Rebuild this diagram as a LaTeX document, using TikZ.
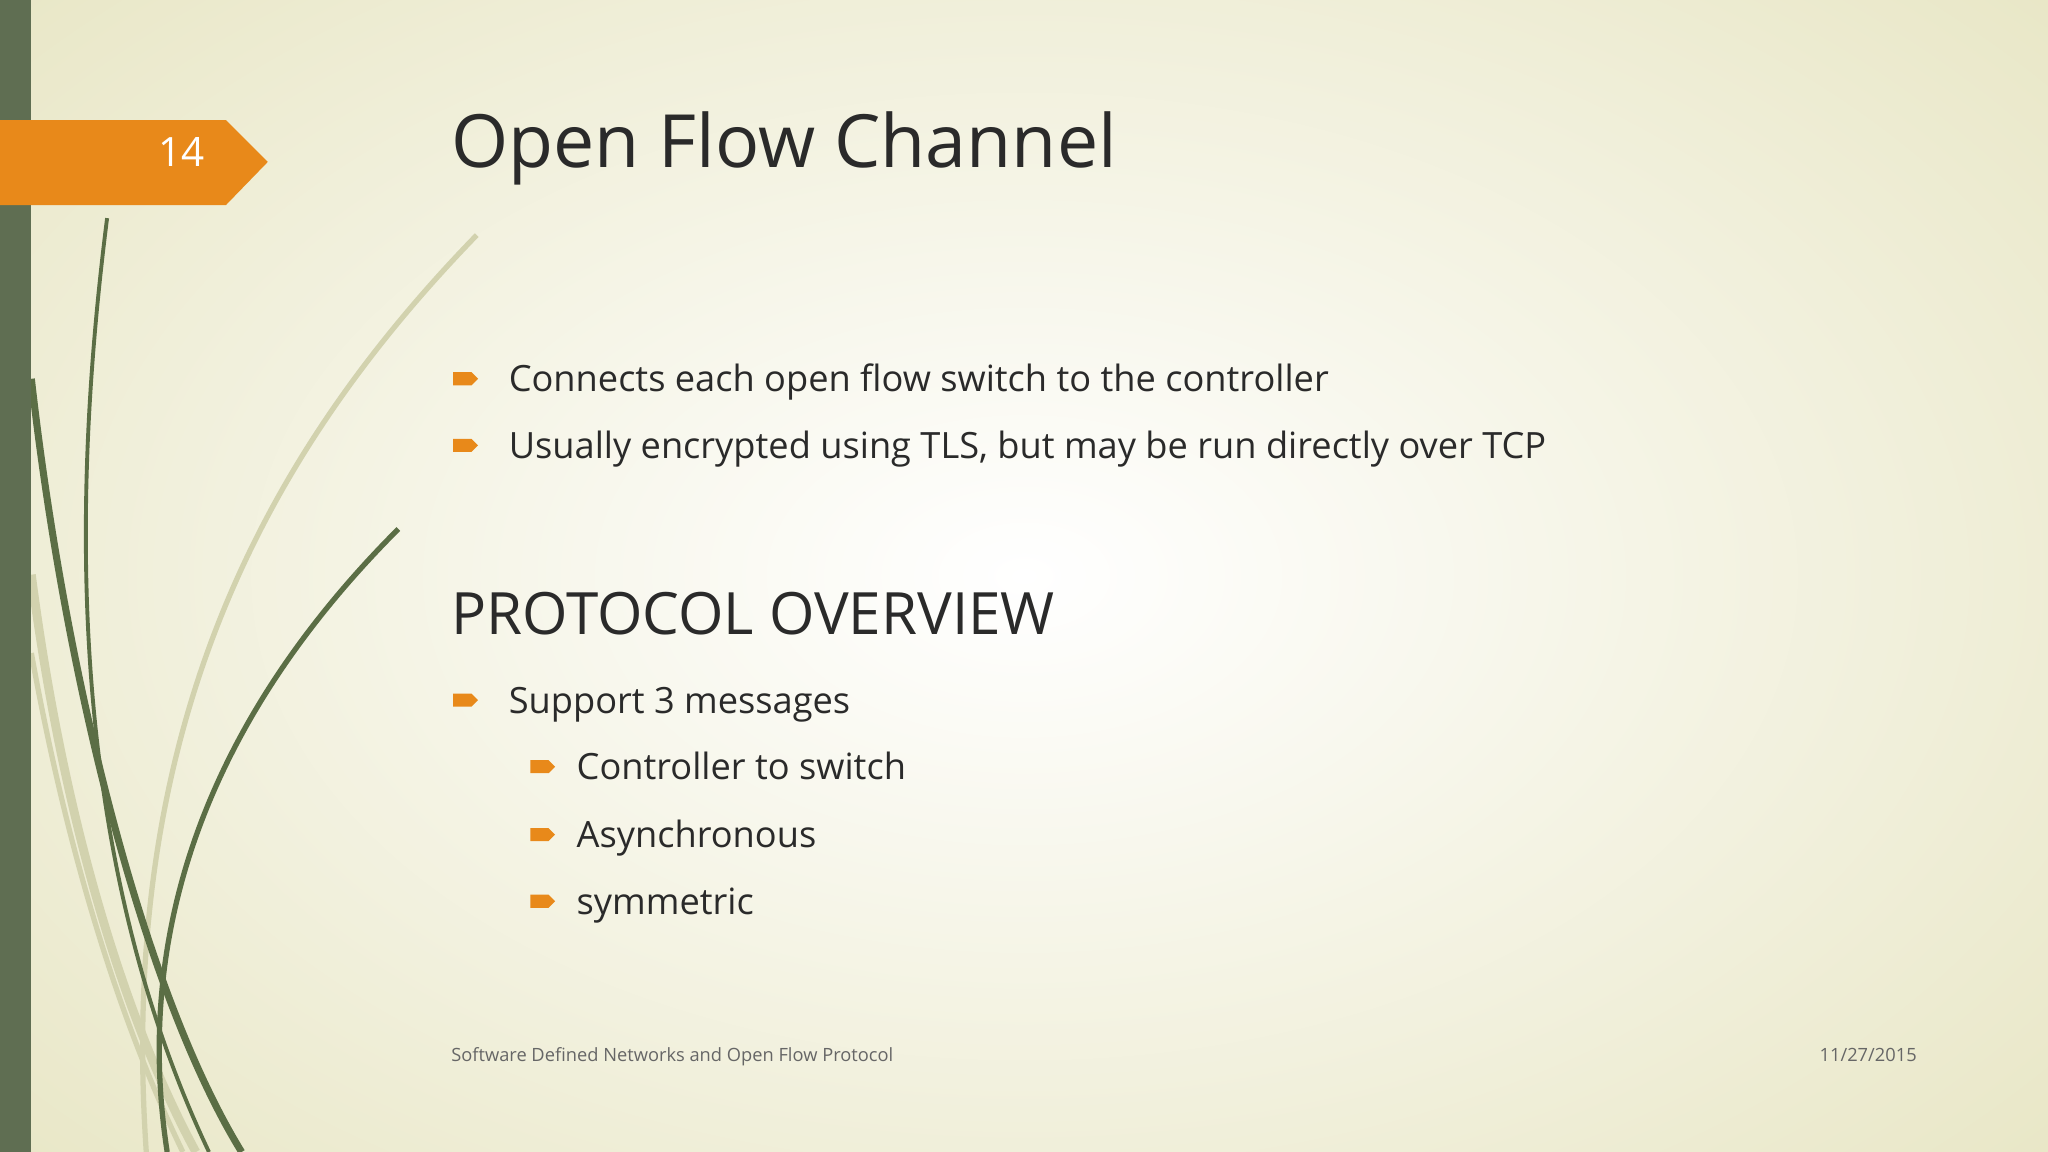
\documentclass[tikz,border=0pt]{standalone}
\usepackage{fontspec}
\setmainfont{Open Sans}
\definecolor{bgedge}{HTML}{E6E4C0}
\definecolor{leaf}{HTML}{5B6E45}
\definecolor{paleleaf}{HTML}{D2D2AE}
\definecolor{barg}{HTML}{5F6E52}
\definecolor{orng}{HTML}{E8891A}
\definecolor{txt}{HTML}{2A2A2A}
\begin{document}
\begin{tikzpicture}[x=0.013061cm,y=-0.013061cm,
  bul/.pic={\fill[orng] (0,-5)--(14,-5)--(19,0)--(14,5)--(0,5)--cycle;},
  t1/.style={anchor=base west,text=txt,font=\fontsize{10.3pt}{14pt}\selectfont,inner sep=0},
]
\useasboundingbox (0,0) rectangle (1568,882);
\path[inner color=white,outer color=bgedge] (-400,-300) rectangle (1968,1182);
% leaves
\draw[paleleaf,line width=1.5pt] (365,180) .. controls (200,350) and (90,560) .. (112,882);
\draw[paleleaf,line width=2.5pt] (24,440) .. controls (50,640) and (100,790) .. (150,882);
\draw[paleleaf,line width=1.5pt] (24,500) .. controls (60,700) and (110,820) .. (140,882);
\draw[leaf,line width=1.1pt] (82,167) .. controls (55,380) and (50,650) .. (160,882);
\draw[leaf,line width=2pt] (24,290) .. controls (50,520) and (110,760) .. (185,882);
\draw[leaf,line width=1.5pt] (305,405) .. controls (170,540) and (100,700) .. (128,882);
\fill[barg] (0,0) rectangle (24,882);
% tag
\fill[orng] (0,92)--(173,92)--(205,124)--(173,157)--(0,157)--cycle;
\node[text=white,font=\fontsize{11.5pt}{14pt}\selectfont] (num) at (139,116) {14};
% title
\node[anchor=base west,text=txt,inner sep=0,font=\fontsize{20.9pt}{26pt}\selectfont] (title) at (345,128) {Open Flow Channel};
\pic at (347,290) {bul}; \node[t1] (b1) at (389,300) {Connects each open flow switch to the controller};
\pic at (347,341) {bul}; \node[t1] (b2) at (389,351) {Usually encrypted using TLS, but may be run directly over TCP};
\node[anchor=base west,text=txt,inner sep=0,font=\fontsize{16.6pt}{20pt}\selectfont] (h2) at (345,486) {PROTOCOL OVERVIEW};
\pic at (347,536) {bul}; \node[t1] (b3) at (389,546) {Support 3 messages};
\pic at (406,587) {bul}; \node[t1] (b4) at (441,597) {Controller to switch};
\pic at (406,639) {bul}; \node[t1] (b5) at (441,649) {Asynchronous};
\pic at (406,690) {bul}; \node[t1] (b6) at (441,700) {symmetric};
\node[anchor=base west,inner sep=0,text=black!60,font=\fontsize{5.2pt}{6pt}\selectfont] (foot) at (345,813) {Software Defined Networks and Open Flow Protocol};
\node[anchor=base east,inner sep=0,text=black!60,font=\fontsize{5.2pt}{6pt}\selectfont] (date) at (1468,813) {11/27/2015};
\end{tikzpicture}
\end{document}
